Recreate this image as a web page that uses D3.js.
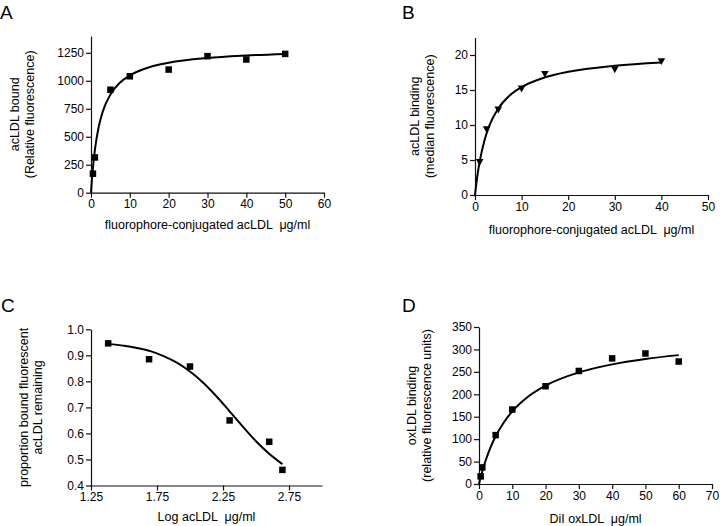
<!DOCTYPE html>
<html><head><meta charset="utf-8">
<script src="https://cdn.jsdelivr.net/npm/d3@7"></script>
<style>
html,body{margin:0;padding:0;background:#fff;}
text{font-family:"Liberation Sans",Arial,sans-serif;fill:#000;}
</style></head>
<body>
<svg id="c" width="720" height="526"></svg>
<script>
// ---- Panel A data ----
const aPointsX = [0.5, 1, 5, 10, 20, 30, 40, 50];
const aPointsY = [170, 315, 920, 1040, 1100, 1220, 1190, 1240];
const aCurveX = [0, 0.25, 0.5, 1, 2, 3, 5, 7.5, 10, 15, 20, 30, 40, 50];
const aCurveY = [0, 123, 224, 382, 591, 722, 878, 985, 1048, 1121, 1161, 1204, 1226, 1240];
const aXTicks = [0, 10, 20, 30, 40, 50, 60];
const aYTicks = [0, 250, 500, 750, 1000, 1250];

// ---- Panel B data ----
const bPointsX = [1, 2.5, 5, 10, 15, 30, 40];
const bPointsY = [4.7, 9.4, 12.2, 15.2, 17.3, 17.95, 19.1];
const bCurveX = [0, 0.5, 1, 2, 3, 5, 7.5, 10, 15, 20, 30, 40];
const bCurveY = [0, 2.7, 4.77, 7.73, 9.76, 12.35, 14.24, 15.41, 16.8, 17.6, 18.47, 18.94];
const bXTicks = [0, 10, 20, 30, 40, 50];
const bYTicks = [0, 5, 10, 15, 20];

// ---- Panel C data ----
const cPointsX = [1.38, 1.69, 2.0, 2.3, 2.6, 2.7];
const cPointsY = [0.946, 0.885, 0.857, 0.65, 0.568, 0.46];
const cCurveX = [1.38, 1.5, 1.6, 1.7, 1.8, 1.9, 2.0, 2.1, 2.2, 2.3, 2.4, 2.5, 2.6, 2.7];
const cCurveY = [0.944, 0.937, 0.928, 0.916, 0.897, 0.872, 0.838, 0.795, 0.743, 0.685, 0.626, 0.570, 0.522, 0.482];
const cXTicks = [1.25, 1.75, 2.25, 2.75];
const cYTicks = [0.4, 0.5, 0.6, 0.7, 0.8, 0.9, 1.0];

// ---- Panel D data ----
const dPointsX = [0.5, 1, 5, 10, 20, 30, 40, 50, 60];
const dPointsY = [17, 37, 109, 166, 218, 252, 280, 291, 273];
const dCurveX = [0, 0.5, 1, 2, 3.5, 5, 7.5, 10, 15, 20, 30, 40, 50, 60];
const dCurveY = [0, 14.8, 28.3, 52.3, 82.1, 106.3, 137.8, 161.9, 196.2, 219.4, 248.8, 266.7, 278.7, 287.3];
const dXTicks = [0, 10, 20, 30, 40, 50, 60, 70];
const dYTicks = [0, 50, 100, 150, 200, 250, 300, 350];

const svg = d3.select("#c");

function panel(cfg) {
  const g = svg.append("g");
  const x = d3.scaleLinear().domain(cfg.xDomain).range([cfg.x0, cfg.x1]);
  const y = d3.scaleLinear().domain(cfg.yDomain).range([cfg.y0, cfg.y1]);

  const xa = g.append("g").attr("transform", `translate(0,${cfg.y0})`)
    .call(d3.axisBottom(x).tickValues(cfg.xTicks).tickSize(5).tickSizeOuter(0).tickPadding(2)
      .tickFormat(cfg.xFmt || d3.format("d")));
  const ya = g.append("g").attr("transform", `translate(${cfg.x0},0)`)
    .call(d3.axisLeft(y).tickValues(cfg.yTicks).tickSize(5).tickSizeOuter(0).tickPadding(2)
      .tickFormat(cfg.yFmt || d3.format("d")));
  [xa, ya].forEach(a => {
    a.selectAll("path,line").attr("stroke", "#111").attr("stroke-width", 1.2);
    a.selectAll("text").style("font-size", "12px").attr("fill", "#000")
      .style("font-family", '"Liberation Sans",Arial,sans-serif');
  });

  const line = d3.line().x(d => x(d[0])).y(d => y(d[1])).curve(d3.curveMonotoneX);
  g.append("path").datum(d3.zip(cfg.cx, cfg.cy)).attr("d", line)
    .attr("fill", "none").attr("stroke", "#000").attr("stroke-width", 2);

  const pts = d3.zip(cfg.px, cfg.py);
  if (cfg.marker === "tri") {
    g.selectAll("path.pt").data(pts).join("path").attr("class", "pt")
      .attr("d", d => { const cx = x(d[0]), cy = y(d[1]); return `M${cx-3.8},${cy-3}L${cx+3.8},${cy-3}L${cx},${cy+3.8}Z`; })
      .attr("fill", "#000");
  } else {
    const s = 6.5;
    g.selectAll("rect.pt").data(pts).join("rect").attr("class", "pt")
      .attr("x", d => x(d[0]) - s / 2).attr("y", d => y(d[1]) - s / 2)
      .attr("width", s).attr("height", s).attr("fill", "#000");
  }

  // x title
  g.append("text").attr("x", (cfg.x0 + cfg.x1) / 2).attr("y", cfg.xTitleY)
    .attr("text-anchor", "middle").style("font-size", "12.5px").style("white-space", "pre")
    .text(cfg.xTitle);
  // y titles
  const cyT = (cfg.y0 + cfg.y1) / 2;
  cfg.yTitle.forEach((t, i) => {
    g.append("text").attr("transform", `translate(${cfg.yTitleX[i]},${cyT}) rotate(-90)`)
      .attr("text-anchor", "middle").style("font-size", "12.5px").text(t);
  });
  // panel letter
  g.append("text").attr("x", cfg.lx).attr("y", cfg.ly).style("font-size", "19px").text(cfg.letter);
}

panel({ letter: "A", lx: 0, ly: 19,
  xDomain: [0, 60], yDomain: [0, 1400], x0: 91, x1: 324, y0: 192.7, y1: 36,
  xTicks: aXTicks, yTicks: aYTicks, px: aPointsX, py: aPointsY, cx: aCurveX, cy: aCurveY,
  marker: "sq", xTitle: "fluorophore-conjugated acLDL  \u03bcg/ml", xTitleY: 229,
  yTitle: ["acLDL bound", "(Relative fluorescence)"], yTitleX: [19, 34] });

panel({ letter: "B", lx: 402, ly: 19,
  xDomain: [0, 50], yDomain: [0, 22.5], x0: 475, x1: 708, y0: 195, y1: 37.5,
  xTicks: bXTicks, yTicks: bYTicks, px: bPointsX, py: bPointsY, cx: bCurveX, cy: bCurveY,
  marker: "tri", xTitle: "fluorophore-conjugated acLDL  \u03bcg/ml", xTitleY: 234,
  yTitle: ["acLDL binding", "(median fluorescence)"], yTitleX: [419, 434] });

panel({ letter: "C", lx: 1, ly: 312,
  xDomain: [1.25, 3.0], yDomain: [0.4, 1.0], x0: 91, x1: 322, y0: 485.5, y1: 329.3,
  xTicks: cXTicks, yTicks: cYTicks, px: cPointsX, py: cPointsY, cx: cCurveX, cy: cCurveY,
  xFmt: d3.format(".2f"), yFmt: d3.format(".1f"),
  marker: "sq", xTitle: "Log acLDL  \u03bcg/ml", xTitleY: 521,
  yTitle: ["proportion bound fluorescent", "acLDL remaining"], yTitleX: [28, 42] });

panel({ letter: "D", lx: 402, ly: 312,
  xDomain: [0, 70], yDomain: [0, 350], x0: 479, x1: 712, y0: 484, y1: 327,
  xTicks: dXTicks, yTicks: dYTicks, px: dPointsX, py: dPointsY, cx: dCurveX, cy: dCurveY,
  marker: "sq", xTitle: "DiI oxLDL  \u03bcg/ml", xTitleY: 523,
  yTitle: ["oxLDL binding", "(relative fluorescence units)"], yTitleX: [416, 431] });
</script>
</body></html>
